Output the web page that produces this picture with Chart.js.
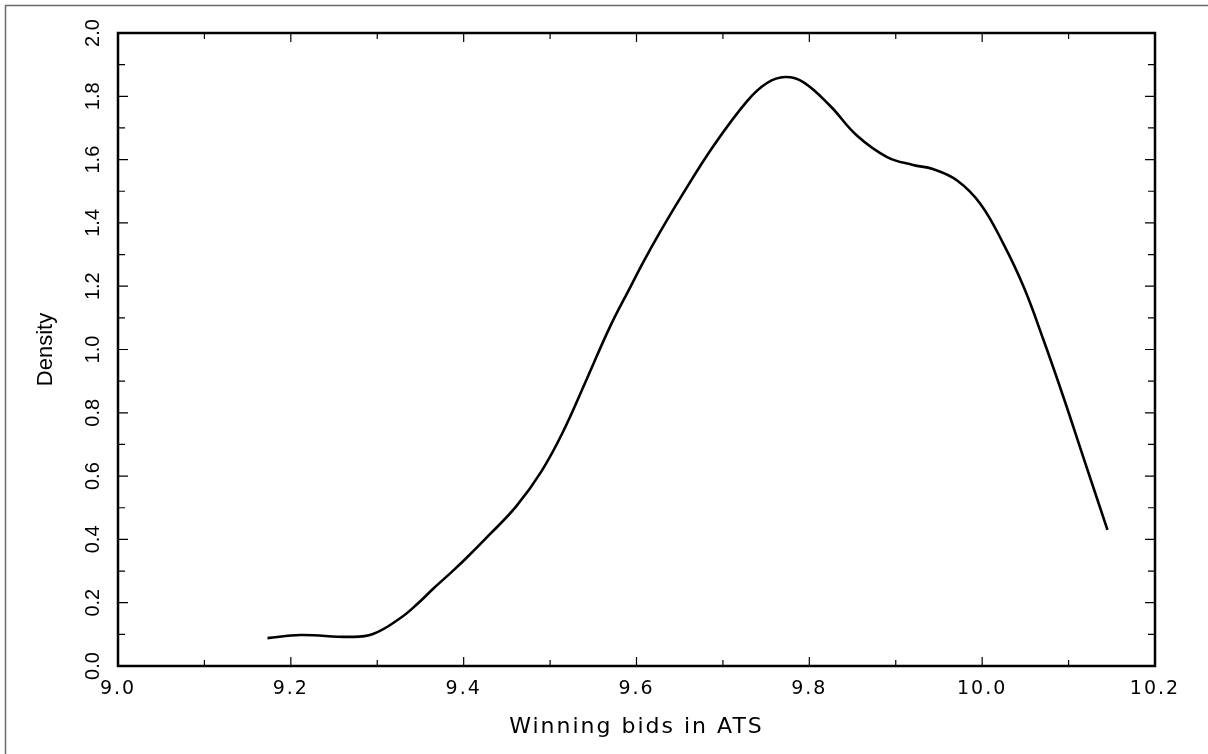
<!DOCTYPE html>
<html>
<head>
<meta charset="utf-8">
<script src="https://cdn.jsdelivr.net/npm/chart.js@4/dist/chart.umd.min.js"></script>
<style>
  html, body { margin: 0; padding: 0; background: #fff; }
  #wrap { width: 1208px; height: 754px; position: relative; }
</style>
</head>
<body>
<div id="wrap"><canvas id="densityChart" width="1208" height="754"></canvas></div>
<script>
// kernel density of winning bids
const bids = [9.173, 9.211, 9.269, 9.295, 9.326, 9.346, 9.365, 9.384, 9.402, 9.431,
    9.461, 9.490, 9.515, 9.543, 9.569, 9.593, 9.608, 9.627, 9.651, 9.689,
    9.728, 9.751, 9.772, 9.793, 9.824, 9.855, 9.890, 9.920, 9.943, 9.971,
    9.998, 10.024, 10.048, 10.071, 10.094, 10.117, 10.145];
const density = [0.088, 0.098, 0.092, 0.101, 0.150, 0.195, 0.245, 0.292, 0.338, 0.418,
    0.505, 0.615, 0.740, 0.910, 1.070, 1.198, 1.277, 1.370, 1.480, 1.643,
    1.785, 1.842, 1.861, 1.845, 1.770, 1.676, 1.608, 1.583, 1.570, 1.534,
    1.460, 1.337, 1.198, 1.030, 0.850, 0.660, 0.430];

const xTickValues = [9.0, 9.2, 9.4, 9.6, 9.8, 10.0, 10.2];
const yTickValues = [0.0, 0.2, 0.4, 0.6, 0.8, 1.0, 1.2, 1.4, 1.6, 1.8, 2.0];

const points = bids.map((b, i) => ({x: b, y: density[i]}));

// inward ticks on all four sides + frame
const frameTicks = {
    id: 'frameTicks',
    afterDraw(chart) {
        const ctx = chart.ctx;
        const a = chart.chartArea;
        const xs = chart.scales.x, ys = chart.scales.y;
        ctx.save();
        // outer frame of the picture
        ctx.strokeStyle = '#6a6a6a';
        ctx.lineWidth = 1.5;
        ctx.strokeRect(5.5, 5.5, 1210, 760);

        ctx.strokeStyle = '#000';
        ctx.lineWidth = 1.2;
        ctx.beginPath();
        for (let i = 0; i <= 12; i++) {
            const px = xs.getPixelForValue(9 + i / 10);
            const len = i % 2 === 0 ? 9 : 6;
            ctx.moveTo(px, a.bottom); ctx.lineTo(px, a.bottom - len);
            ctx.moveTo(px, a.top); ctx.lineTo(px, a.top + len);
        }
        for (let i = 0; i <= 20; i++) {
            const py = ys.getPixelForValue(i / 10);
            const len = i % 2 === 0 ? 10 : 7;
            ctx.moveTo(a.left, py); ctx.lineTo(a.left + len, py);
            ctx.moveTo(a.right, py); ctx.lineTo(a.right - len, py);
        }
        ctx.stroke();

        ctx.lineWidth = 2.5;
        ctx.strokeRect(a.left, a.top, a.right - a.left, a.bottom - a.top);
        ctx.restore();
    }
};

function spaced(scale, px) {
    if (scale._spaced) return;
    const dl = scale.drawLabels, dt = scale.drawTitle;
    scale.drawLabels = function (area) {
        this.ctx.save(); this.ctx.letterSpacing = px; dl.call(this, area); this.ctx.restore();
    };
    scale.drawTitle = function () {
        this.ctx.save(); this.ctx.letterSpacing = px; dt.call(this); this.ctx.restore();
    };
    scale._spaced = true;
}

new Chart(document.getElementById('densityChart'), {
    type: 'line',
    data: {
        datasets: [{
            data: points,
            borderColor: '#000',
            borderWidth: 2.6,
            pointRadius: 0,
            fill: false,
            tension: 0.4
        }]
    },
    options: {
        responsive: false,
        animation: false,
        layout: {padding: {top: 33, right: 53, left: 0, bottom: 0}},
        plugins: {legend: {display: false}, tooltip: {enabled: false}},
        scales: {
            x: {
                type: 'linear',
                min: 9.0,
                max: 10.2,
                afterBuildTicks: s => { s.ticks = xTickValues.map(v => ({value: v})); },
                afterFit: s => { s.height = 88; spaced(s, '2px'); },
                grid: {display: false, drawTicks: false},
                border: {display: false},
                ticks: {
                    padding: 12,
                    color: '#000',
                    font: {family: 'DejaVu Sans', size: 19},
                    maxRotation: 0,
                    autoSkip: false,
                    callback: v => v.toFixed(1)
                },
                title: {
                    display: true,
                    text: 'Winning bids in ATS',
                    color: '#000',
                    font: {family: 'DejaVu Sans', size: 22},
                    padding: {top: 0, bottom: 14}
                }
            },
            y: {
                min: 0,
                max: 2.0,
                afterBuildTicks: s => { s.ticks = yTickValues.map(v => ({value: v})); },
                afterFit: s => { s.width = 118; },
                grid: {display: false, drawTicks: false},
                border: {display: false},
                ticks: {
                    padding: 11,
                    color: '#000',
                    minRotation: 90,
                    maxRotation: 90,
                    crossAlign: 'center',
                    autoSkip: false,
                    font: {family: 'Liberation Sans', size: 20},
                    callback: v => v.toFixed(1)
                },
                title: {
                    display: true,
                    text: 'Density',
                    color: '#000',
                    font: {family: 'Liberation Sans', size: 22},
                    padding: {top: 33, bottom: 0}
                }
            }
        }
    },
    plugins: [frameTicks]
});
</script>
</body>
</html>
